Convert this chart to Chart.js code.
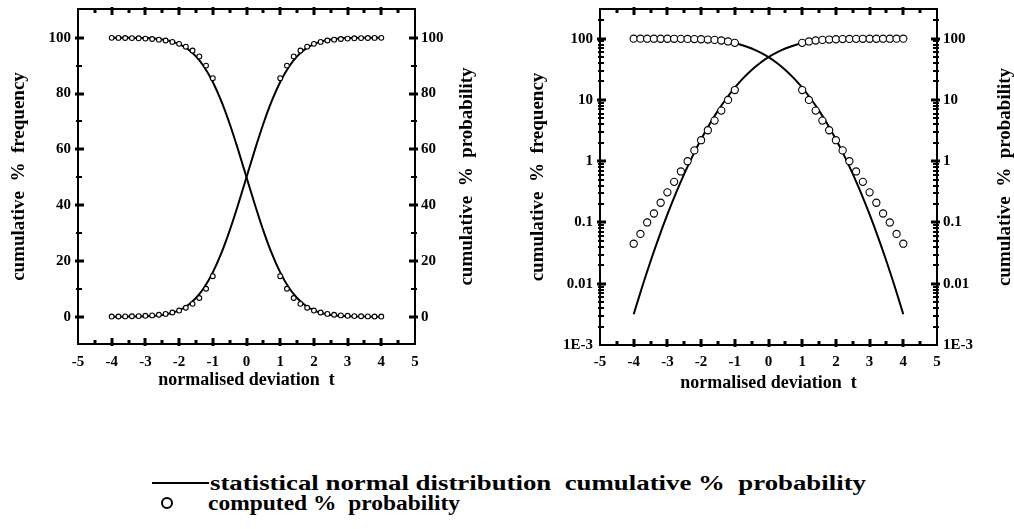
<!DOCTYPE html>
<html><head><meta charset="utf-8">
<script src="https://cdn.jsdelivr.net/npm/chart.js@4.4.0/dist/chart.umd.min.js"></script>
<style>
html,body{margin:0;padding:0;background:#fff;width:1014px;height:529px;overflow:hidden;position:relative}
canvas{position:absolute;top:0}
#c1{left:0}
#c2{left:507px}
.leg{position:absolute;font:bold 20px 'Liberation Serif','Times New Roman',serif;color:#000;white-space:pre;transform-origin:0 50%;line-height:20px}
#legLine{position:absolute;left:152px;top:482px;width:57px;height:2px;background:#000}
#legCirc{position:absolute;left:161px;top:497px;width:8px;height:8px;border:2px solid #000;border-radius:50%}
</style></head><body>
<canvas id="c1" width="507" height="400" style="width:507px;height:400px"></canvas>
<canvas id="c2" width="507" height="400" style="width:507px;height:400px"></canvas>
<div id="legLine"></div>
<div id="legCirc"></div>
<div class="leg" id="leg1" style="left:210px;top:473px">statistical normal distribution  cumulative %  probability</div>
<div class="leg" id="leg2" style="left:208px;top:493px">computed %  probability</div>
<script>
// ---- data ----
const curveT = [-4,-3.75,-3.5,-3.25,-3,-2.75,-2.5,-2.25,-2,-1.75,-1.5,-1.25,-1,-0.75,-0.5,-0.25,0,0.25,0.5,0.75,1,1.25,1.5,1.75,2,2.25,2.5,2.75,3,3.25,3.5,3.75,4];
const curveUp = [0.00317,0.00884,0.0233,0.0577,0.135,0.298,0.621,1.222,2.275,4.006,6.681,10.56,15.87,22.66,30.85,40.13,50,59.87,69.15,77.34,84.13,89.44,93.32,95.99,97.72,98.78,99.38,99.70,99.865,99.942,99.977,99.991,99.997];
const curveDown = [99.997,99.991,99.977,99.942,99.865,99.70,99.38,98.78,97.72,95.99,93.32,89.44,84.13,77.34,69.15,59.87,50,40.13,30.85,22.66,15.87,10.56,6.681,4.006,2.275,1.222,0.621,0.298,0.135,0.0577,0.0233,0.00884,0.00317];

const ptTLeft = [-4,-3.8,-3.6,-3.4,-3.2,-3,-2.8,-2.6,-2.4,-2.2,-2,-1.8,-1.6,-1.4,-1.2,-1];
const ptTRight = [1,1.2,1.4,1.6,1.8,2,2.2,2.4,2.6,2.8,3,3.2,3.4,3.6,3.8,4];
const lowLeft = [0.045,0.065,0.1,0.14,0.21,0.31,0.46,0.68,1.0,1.5,2.2,3.2,4.6,6.7,10,14.5];
const highLeft = [99.955,99.935,99.9,99.86,99.79,99.69,99.54,99.32,99.0,98.5,97.8,96.8,95.4,93.3,90,85.5];
const lowRight = [14.5,10,6.7,4.6,3.2,2.2,1.5,1.0,0.68,0.46,0.31,0.21,0.14,0.1,0.065,0.045];
const highRight = [85.5,90,93.3,95.4,96.8,97.8,98.5,99.0,99.32,99.54,99.69,99.79,99.86,99.9,99.935,99.955];

const xTicks = [-5,-4,-3,-2,-1,0,1,2,3,4,5];
const xMinorTicks = [-4.5,-3.5,-2.5,-1.5,-0.5,0.5,1.5,2.5,3.5,4.5];
const linTicks = [0,20,40,60,80,100];
const linMinorTicks = [10,30,50,70,90];
const logTicks = [0.001,0.01,0.1,1,10,100];
const logTickLabels = ['1E-3','0.01','0.1','1','10','100'];
const logMinorTicks = [];
for (const d of [0.001,0.01,0.1,1,10,100]) for (let m=2;m<=9;m++){ const v=d*m; if (v<=300) logMinorTicks.push(v); }

const yTitle = 'cumulative  %  frequency';
const y2Title = 'cumulative  %  probability';
const xTitle = 'normalised deviation  t';

// ---- styling helpers ----
const FF = "'Liberation Serif','Times New Roman',serif";
const tickFont = {family:FF, size:15, weight:'bold'};
const titleFont = {family:FF, size:19, weight:'bold'};
const xTitleFont = {family:FF, size:18, weight:'bold'};

function makeFramePlugin(cfg){
  return {
    id:'frame_'+cfg.name,
    afterDraw(chart){
      const ctx = chart.ctx;
      const a = chart.chartArea;
      const xs = chart.scales.x, ys = chart.scales.y;
      const L = Math.round(a.left), R = Math.round(a.right), T = Math.round(a.top), B = Math.round(a.bottom);
      ctx.save();
      ctx.fillStyle = '#000';
      // 2px frame
      ctx.fillRect(L-1, T-1, R-L+2, 2);
      ctx.fillRect(L-1, B-1, R-L+2, 2);
      ctx.fillRect(L-1, T-1, 2, B-T+2);
      ctx.fillRect(R-1, T-1, 2, B-T+2);
      // ticks crossing the frame (mostly inward)
      const tx=(vals,inn,out,w)=>{ vals.forEach(v=>{ const p=Math.round(xs.getPixelForValue(v)); if(!(p>L+1&&p<R-1)) return;
        ctx.fillRect(p-w/2,B-inn,w,inn+out); ctx.fillRect(p-w/2,T-out,w,inn+out); }); };
      const ty=(vals,inn,out,w)=>{ vals.forEach(v=>{ const p=Math.round(ys.getPixelForValue(v)); if(!(p>T+1&&p<B-1)) return;
        ctx.fillRect(L-out,p-w/2,inn+out,w); ctx.fillRect(R-inn,p-w/2,inn+out,w); }); };
      tx(cfg.xMajor,6,2,3); tx(cfg.xMinor,4,1,3);
      ty(cfg.yMajor,6,3,3); ty(cfg.yMinor,4,2,2);
      // right-hand axis title (reads bottom to top)
      ctx.font = `bold ${titleFont.size}px ${FF}`;
      ctx.textAlign='center'; ctx.textBaseline='middle';
      ctx.translate(cfg.rightTitleX,(a.top+a.bottom)/2);
      ctx.rotate(-Math.PI/2);
      ctx.fillText(cfg.rightTitle,0,0);
      ctx.restore();
    }
  };
}

function setTicks(vals){ return s=>{ s.ticks = vals.map(v=>({value:v})); }; }

function makeChart(id, isLog, dims){
  const lineStyle = {borderColor:'#000', borderWidth:2, pointRadius:0, fill:false, cubicInterpolationMode:'monotone', order:2, yAxisID:'y'};
  const ptStyle = {showLine:false, pointRadius:isLog?3.6:2.4, pointBorderWidth:1.1, pointBackgroundColor:'#fff', pointBorderColor:'#000', backgroundColor:'#fff', borderColor:'#000', order:1, yAxisID:'y'};
  const yCommon = isLog ? {type:'logarithmic', min:0.001, max:305} : {type:'linear', min:-9.8, max:110.3};
  const yTickVals = isLog ? logTicks : linTicks;
  const yLabel = v => isLog ? logTickLabels[logTicks.indexOf(v)] ?? '' : String(v);
  const noGrid = {display:false, drawTicks:false, tickLength:0};
  const frame = makeFramePlugin({name:id, xMajor:xTicks, xMinor:xMinorTicks, yMajor:yTickVals, yMinor:isLog?logMinorTicks:linMinorTicks, rightTitle:y2Title, rightTitleX:dims.rightTitleX});
  return new Chart(document.getElementById(id), {
    type:'line',
    data:{datasets:[
      {...lineStyle, label:'up', data: curveT.map((t,i)=>({x:t,y:curveUp[i]}))},
      {...lineStyle, label:'down', data: curveT.map((t,i)=>({x:t,y:curveDown[i]}))},
      {...ptStyle, label:'pLL', data: ptTLeft.map((t,i)=>({x:t,y:lowLeft[i]}))},
      {...ptStyle, label:'pHL', data: ptTLeft.map((t,i)=>({x:t,y:highLeft[i]}))},
      {...ptStyle, label:'pLR', data: ptTRight.map((t,i)=>({x:t,y:lowRight[i]}))},
      {...ptStyle, label:'pHR', data: ptTRight.map((t,i)=>({x:t,y:highRight[i]}))}
    ]},
    options:{
      responsive:false, animation:false, devicePixelRatio:1,
      layout:{padding:{top:dims.top,left:0,right:0,bottom:0}},
      plugins:{legend:{display:false}, tooltip:{enabled:false}},
      scales:{
        x:{type:'linear', min:-5, max:5, afterBuildTicks:setTicks(xTicks),
           grid:noGrid, border:{display:false},
           ticks:{font:tickFont, color:'#000', padding:dims.xPad, maxRotation:0, autoSkip:false, callback:v=>String(v)},
           title:{display:true, text:xTitle, font:xTitleFont, color:'#000', padding:{top:0,bottom:dims.xTitlePad}},
           afterFit:s=>{s.height=dims.xH; s.paddingLeft=0; s.paddingRight=0;}},
        y:{...yCommon, position:'left', afterBuildTicks:setTicks(yTickVals),
           grid:noGrid, border:{display:false},
           ticks:{font:tickFont, color:'#000', padding:7, autoSkip:false, callback:yLabel},
           title:{display:true, text:yTitle, font:titleFont, color:'#000', padding:{top:dims.yTitlePad,bottom:0}},
           afterFit:s=>{s.width=dims.yW; s.paddingTop=0; s.paddingBottom=0;}},
        y2:{...yCommon, position:'right', afterBuildTicks:setTicks(yTickVals),
           grid:noGrid, border:{display:false},
           ticks:{font:tickFont, color:'#000', padding:6, autoSkip:false, callback:yLabel},
           afterFit:s=>{s.width=dims.y2W; s.paddingTop=0; s.paddingBottom=0;}}
      }
    },
    plugins:[frame]
  });
}

makeChart('c1', false, {top:9, xH:56, xPad:9, xTitlePad:9, yW:78, y2W:92, yTitlePad:8, rightTitleX:467});
makeChart('c2', true, {top:9, xH:55, xPad:8, xTitlePad:6, yW:93, y2W:77, yTitlePad:20, rightTitleX:498});

// stretch legend text to the reference widths
function fitWidth(id, w){ const el=document.getElementById(id); const r=el.getBoundingClientRect().width; el.style.transform=`scaleX(${w/r})`; }
fitWidth('leg1', 656);
fitWidth('leg2', 252);
</script>
</body></html>
